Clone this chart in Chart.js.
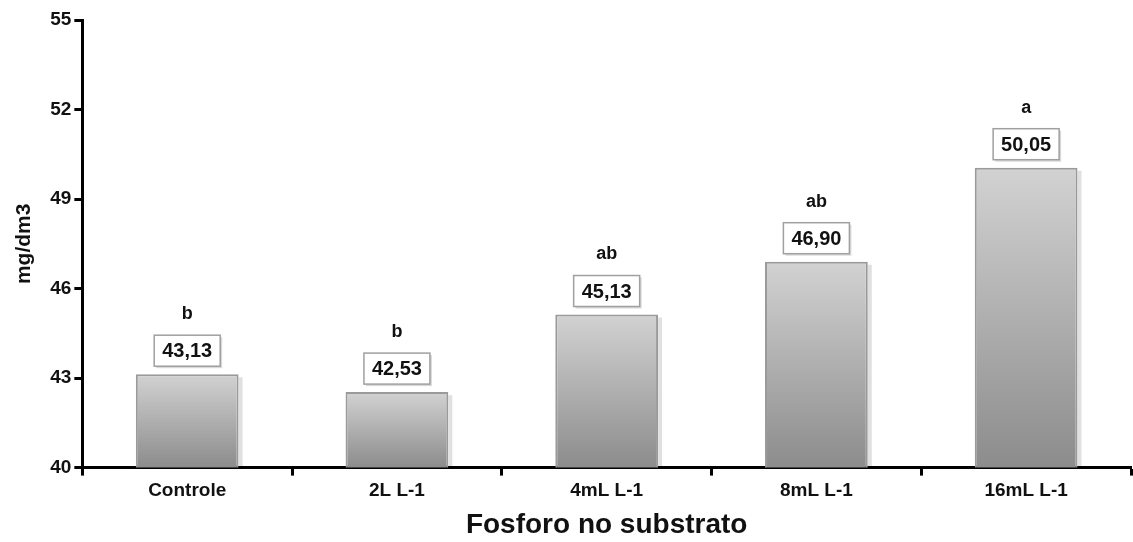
<!DOCTYPE html>
<html>
<head>
<meta charset="utf-8">
<script src="https://cdn.jsdelivr.net/npm/chart.js@4.4.1/dist/chart.umd.min.js"></script>
<style>
  html,body{margin:0;padding:0;background:#fff;}
  #wrap{width:1133px;height:542px;}
</style>
</head>
<body>
<div id="wrap"><canvas id="c"></canvas></div>
<script>
const categories = ['Controle','2L L-1','4mL L-1','8mL L-1','16mL L-1'];
const values     = [43.13, 42.53, 45.13, 46.90, 50.05];
const letters    = ['b','b','ab','ab','a'];
const yTicks     = [40, 43, 46, 49, 52, 55];

const FONT = '"Liberation Sans", Arial, sans-serif';

// gradiente por barra (claro em cima, escuro embaixo)
function barFill(ctx){
  const chart = ctx.chart;
  if(!chart.chartArea) return '#b0b0b0';
  const y = chart.scales.y;
  const top = y.getPixelForValue(values[ctx.dataIndex]);
  const bot = y.getPixelForValue(yTicks[0]);
  const g = chart.ctx.createLinearGradient(0, top, 0, bot);
  g.addColorStop(0, '#d2d2d2');
  g.addColorStop(1, '#8c8c8c');
  return g;
}

// caixas com valores + letras
const labelsPlugin = {
  id:'labelsPlugin',
  beforeDatasetsDraw(chart){
    // sombra leve das barras
    const ctx = chart.ctx, meta = chart.getDatasetMeta(0);
    const base = chart.scales.y.getPixelForValue(yTicks[0]);
    ctx.save();
    meta.data.forEach(b=>{
      ctx.fillStyle = 'rgba(0,0,0,0.12)';
      ctx.fillRect(b.x + b.width/2, b.y + 3, 4, base - b.y - 3);
    });
    ctx.restore();
  },
  afterDatasetsDraw(chart){
    const ctx = chart.ctx, meta = chart.getDatasetMeta(0);
    ctx.save();
    meta.data.forEach((b,i)=>{
      const txt = values[i].toFixed(2).replace('.',',');
      const bw = 66, bh = 31;
      const bx = b.x - bw/2, by = b.y - 8 - bh;
      ctx.fillStyle = 'rgba(0,0,0,0.15)';
      ctx.fillRect(bx+2, by+2, bw, bh);
      ctx.fillStyle = '#fff';
      ctx.fillRect(bx, by, bw, bh);
      ctx.strokeStyle = '#a0a0a0';
      ctx.lineWidth = 1.5;
      ctx.strokeRect(bx, by, bw, bh);
      ctx.fillStyle = '#111';
      ctx.font = 'bold 20px ' + FONT;
      ctx.textAlign = 'center';
      ctx.textBaseline = 'middle';
      ctx.fillText(txt, b.x, by + bh/2 + 1);
      ctx.font = 'bold 18px ' + FONT;
      ctx.fillText(letters[i], b.x, by - 21);
    });
    ctx.restore();
  }
};

new Chart(document.getElementById('c'), {
  type:'bar',
  data:{
    labels: categories,
    datasets:[{
      data: values,
      backgroundColor: barFill,
      borderColor: '#9a9a9a',
      borderWidth: 2,
      borderSkipped: 'bottom',
      categoryPercentage: 1,
      barPercentage: 0.49
    }]
  },
  options:{
    responsive:true,
    maintainAspectRatio:false,
    animation:false,
    layout:{padding:{top:20, right:2, left:8, bottom:0}},
    plugins:{legend:{display:false}, tooltip:{enabled:false}},
    scales:{
      x:{
        offset:true,
        grid:{offset:true, drawOnChartArea:false, drawTicks:true, tickLength:8, tickWidth:3, tickColor:'#000'},
        border:{display:true, color:'#000', width:3},
        ticks:{color:'#111', font:{family:FONT, size:19, weight:'bold'}, padding:4},
        title:{display:true, text:'Fosforo no substrato', color:'#111', font:{family:FONT, size:28, weight:'bold'}, padding:{top:2, bottom:0}}
      },
      y:{
        min: yTicks[0], max: yTicks[yTicks.length-1],
        afterBuildTicks(axis){ axis.ticks = yTicks.map(v=>({value:v})); },
        grid:{drawOnChartArea:false, drawTicks:true, tickLength:8, tickWidth:3, tickColor:'#000'},
        border:{display:true, color:'#000', width:3},
        ticks:{color:'#111', font:{family:FONT, size:19, weight:'bold'}, padding:3},
        title:{display:true, text:'mg/dm3', color:'#111', font:{family:FONT, size:21, weight:'bold'}, padding:{bottom:10}}
      }
    }
  },
  plugins:[labelsPlugin]
});
</script>
</body>
</html>
